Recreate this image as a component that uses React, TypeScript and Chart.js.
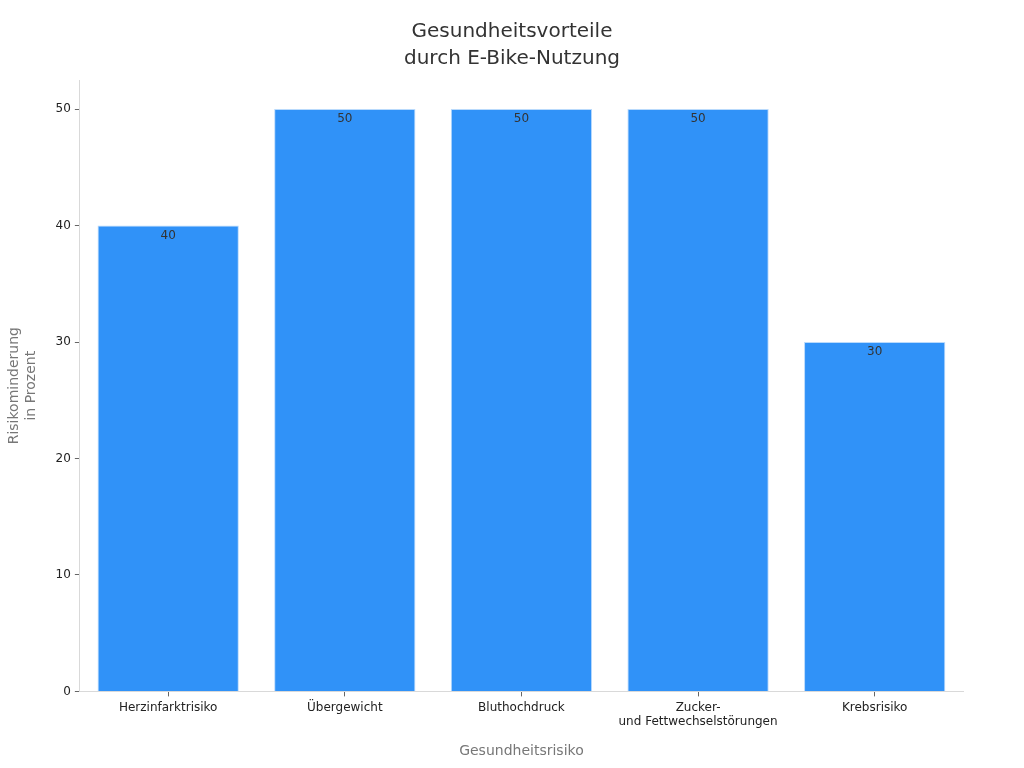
import React, { useEffect, useRef } from "react";
import { Chart, registerables } from "chart.js";

Chart.register(...registerables);

const categories: (string | string[])[] = [
  "Herzinfarktrisiko",
  "Übergewicht",
  "Bluthochdruck",
  ["Zucker-", "und Fettwechselstörungen"],
  "Krebsrisiko",
];
const values: number[] = [40, 50, 50, 50, 30];
const yTickValues: number[] = [0, 10, 20, 30, 40, 50];
const titleLines: string[] = ["Gesundheitsvorteile", "durch E-Bike-Nutzung"];
const yTitle: string[] = ["Risikominderung", "in Prozent"];
const xTitle = "Gesundheitsrisiko";

const FONT = "'DejaVu Sans', sans-serif";
const TITLE_SIZE = 20;
const TITLE_LH = 1.35;

const valueLabels = {
  id: "valueLabels",
  afterDatasetsDraw(chart: any) {
    const ctx = chart.ctx;
    const meta = chart.getDatasetMeta(0);
    ctx.save();
    ctx.font = `12px ${FONT}`;
    ctx.fillStyle = "#333333";
    ctx.textAlign = "center";
    ctx.textBaseline = "middle";
    meta.data.forEach((el: any, i: number) => {
      ctx.fillText(String(values[i]), el.x, el.y + 10);
    });
    ctx.restore();
  },
};

const centeredTitle = {
  id: "centeredTitle",
  afterDraw(chart: any) {
    const ctx = chart.ctx;
    const t = chart.titleBlock;
    ctx.save();
    ctx.font = `${TITLE_SIZE}px ${FONT}`;
    ctx.fillStyle = "#333333";
    ctx.textAlign = "center";
    ctx.textBaseline = "middle";
    const lh = TITLE_SIZE * TITLE_LH;
    const top = t ? t.top + 10 : 20;
    titleLines.forEach((line, i) => {
      ctx.fillText(line, chart.width / 2, top + lh * i + lh / 2);
    });
    ctx.restore();
  },
};

export default function App() {
  const ref = useRef<HTMLCanvasElement>(null);
  useEffect(() => {
    if (!ref.current) return;
    const chart = new Chart(ref.current, {
      type: "bar",
      data: {
        labels: categories,
        datasets: [
          {
            data: values,
            backgroundColor: "#3092f8",
            borderColor: "#b9dafc",
            borderWidth: 1,
            barPercentage: 0.8,
            categoryPercentage: 1.0,
          },
        ],
      },
      options: {
        animation: false,
        responsive: true,
        maintainAspectRatio: false,
        layout: { padding: { left: 6, right: 61, top: 8, bottom: 8 } },
        plugins: {
          legend: { display: false },
          tooltip: { enabled: false },
          title: {
            display: true,
            text: titleLines,
            color: "rgba(0,0,0,0)",
            font: { family: FONT, size: TITLE_SIZE, weight: "normal" as any, lineHeight: TITLE_LH },
            padding: { top: 10, bottom: 8 },
          },
        },
        scales: {
          x: {
            grid: {
              display: true,
              offset: false,
              drawOnChartArea: false,
              drawTicks: true,
              tickLength: 5,
              color: "#666666",
            },
            border: { display: true, color: "#d9d9d9" },
            ticks: {
              color: "#222222",
              font: { family: FONT, size: 12 },
              padding: 4,
              maxRotation: 0,
            },
            title: {
              display: true,
              text: xTitle,
              color: "#777777",
              font: { family: FONT, size: 14 },
              padding: { top: 10, bottom: 0 },
            },
          },
          y: {
            min: 0,
            max: 52.5,
            afterBuildTicks(axis: any) {
              axis.ticks = yTickValues.map((v) => ({ value: v }));
            },
            grid: {
              display: true,
              drawOnChartArea: false,
              drawTicks: true,
              tickLength: 5,
              color: "#666666",
            },
            border: { display: true, color: "#d9d9d9" },
            ticks: {
              color: "#222222",
              font: { family: FONT, size: 12 },
              padding: 4,
            },
            title: {
              display: true,
              text: yTitle,
              color: "#777777",
              font: { family: FONT, size: 14, lineHeight: 1.2 },
              padding: { top: 0, bottom: 12 },
            },
          },
        },
      },
      plugins: [valueLabels, centeredTitle],
    });
    return () => chart.destroy();
  }, []);
  return (
    <div style={{ position: "fixed", left: 0, top: 0, width: 1024, height: 768, background: "#fff" }}>
      <canvas ref={ref} />
    </div>
  );
}
